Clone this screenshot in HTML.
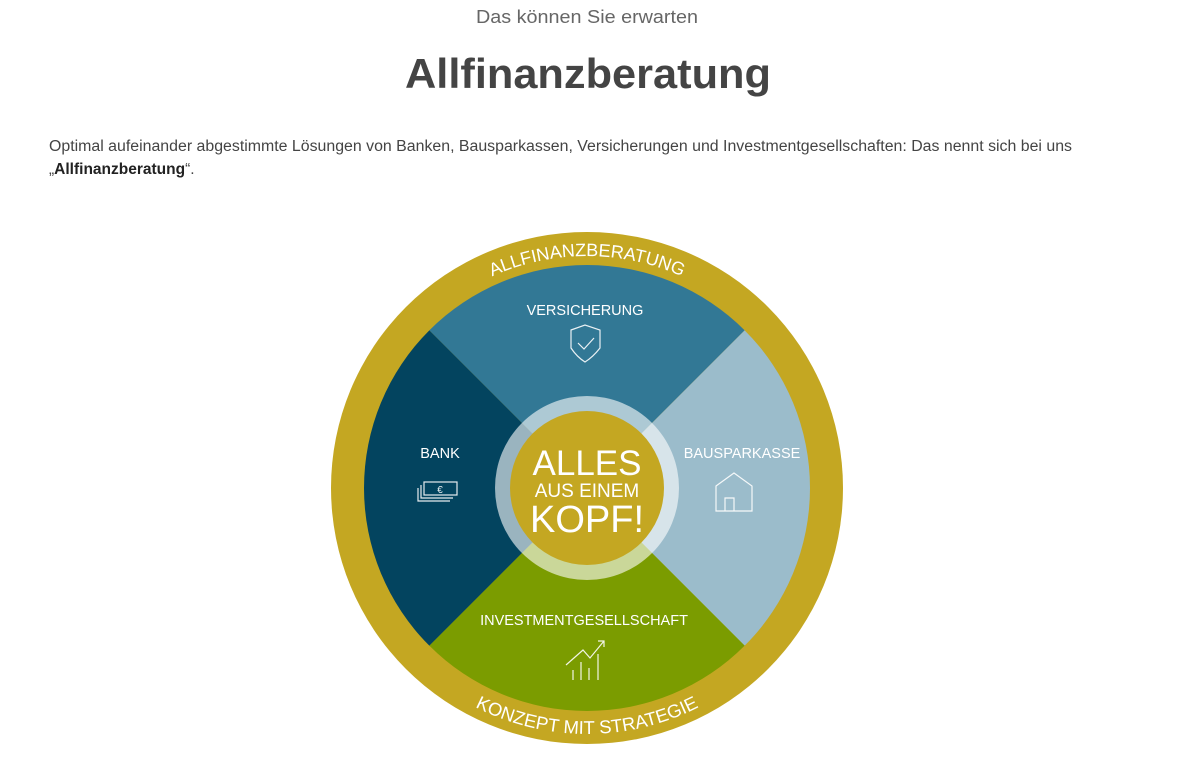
<!DOCTYPE html>
<html><head><meta charset="utf-8"><style>
html,body{margin:0;padding:0;background:#fff;width:1200px;height:764px;overflow:hidden}
svg{display:block}
</style></head><body>
<svg width="1200" height="764" viewBox="0 0 1200 764" xmlns="http://www.w3.org/2000/svg" font-family="Liberation Sans, sans-serif">
<text x="587" y="23" text-anchor="middle" font-size="18" fill="#666" textLength="222" lengthAdjust="spacingAndGlyphs">Das können Sie erwarten</text>
<text x="588" y="88" text-anchor="middle" font-size="42" font-weight="bold" fill="#444" textLength="366" lengthAdjust="spacingAndGlyphs">Allfinanzberatung</text>
<text x="49" y="151" font-size="15.5" fill="#444" textLength="1023" lengthAdjust="spacingAndGlyphs">Optimal aufeinander abgestimmte Lösungen von Banken, Bausparkassen, Versicherungen und Investmentgesellschaften: Das nennt sich bei uns</text>
<text x="49" y="174" font-size="15.5" fill="#444">„<tspan font-weight="bold" fill="#222">Allfinanzberatung</tspan>“.</text>

<defs>
<clipPath id="c"><circle cx="587" cy="488" r="223"/></clipPath>
<path id="topArc" d="M 355 488 A 232 232 0 0 1 819 488"/>
<path id="botArc" d="M 341 488 A 246 246 0 0 0 833 488"/>
</defs>
<circle cx="587" cy="488" r="256" fill="#c4a722"/>
<g clip-path="url(#c)">
<polygon points="587,488 300,201 874,201" fill="#327895"/>
<polygon points="587,488 874,201 874,775" fill="#9bbccb"/>
<polygon points="587,488 874,775 300,775" fill="#7b9c00"/>
<polygon points="587,488 300,775 300,201" fill="#03445f"/>
</g>
<circle cx="587" cy="488" r="92" fill="#fff" fill-opacity="0.6"/>
<circle cx="587" cy="488" r="77" fill="#c4a722"/>

<text font-size="18" fill="#fff"><textPath href="#topArc" startOffset="50%" text-anchor="middle">ALLFINANZBERATUNG</textPath></text>
<text font-size="18.5" fill="#fff"><textPath href="#botArc" startOffset="50%" text-anchor="middle">KONZEPT MIT STRATEGIE</textPath></text>

<g fill="#fff" text-anchor="middle" font-size="14.5">
<text x="585" y="315">VERSICHERUNG</text>
<text x="440" y="458">BANK</text>
<text x="742" y="458">BAUSPARKASSE</text>
<text x="584" y="625">INVESTMENTGESELLSCHAFT</text>
<text x="587" y="475" font-size="35">ALLES</text>
<text x="587" y="497" font-size="19">AUS EINEM</text>
<text x="587" y="532" font-size="38">KOPF!</text>
</g>
<g fill="none" stroke="#fff" stroke-width="1.2" opacity="0.9">
<path d="M571 330 L585 325 L600 330 L600 348 Q593 357 585 362 Q577 357 571 348 Z"/>
<path d="M578 343 L584 349 L594 338"/>
<path d="M716 486 L734 473 L752 486 L752 511 L716 511 Z"/>
<path d="M725 511 L725 498 L734 498 L734 511"/>
<rect x="424" y="482" width="33" height="13"/>
<path d="M421 485 L421 498 L453 498 M418 488 L418 501 L450 501"/>
<text x="440" y="493" font-size="10" fill="#fff" stroke="none" text-anchor="middle">€</text>
<path d="M566 665 L583 650 L590 658 L604 641 M598 641 L604 641 L604 647"/>
<path d="M573 680 V670 M581 680 V662 M589 680 V668 M598 680 V654"/>
</g>
</svg>
</body></html>
